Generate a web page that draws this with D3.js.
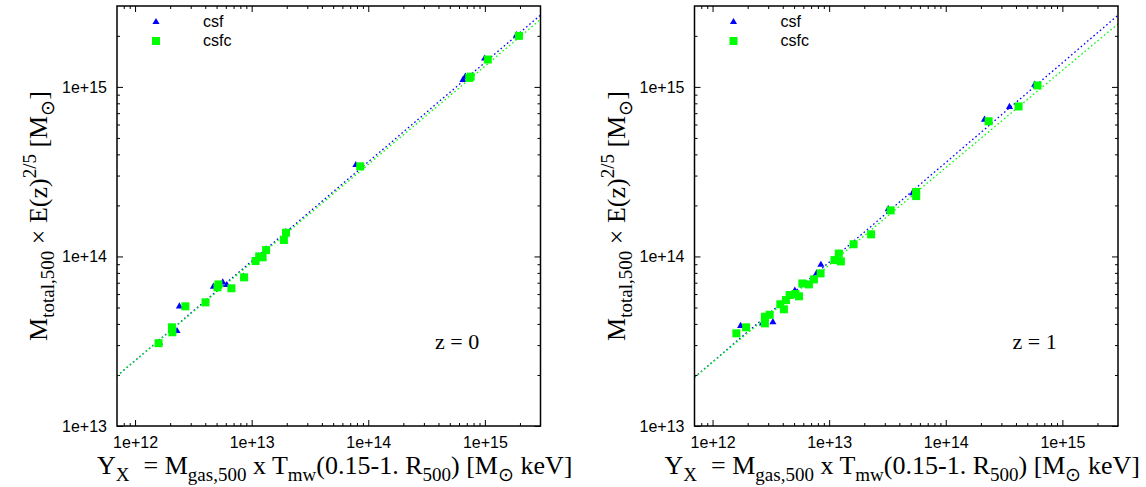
<!DOCTYPE html>
<html>
<head>
<meta charset="utf-8">
<script src="https://cdn.jsdelivr.net/npm/d3@7"></script>
<style>
  html, body { margin: 0; padding: 0; background: #fff; }
  svg { display: block; }
</style>
</head>
<body>
<svg id="chart" width="1146" height="487"></svg>
<script>
// ---- data: z = 0 ----
const z0CsfY  = [1.62e12, 2.29e12, 2.05e12, 2.40e12, 4.0e12, 4.70e12, 5.65e12, 6.12e12, 8.5e12, 1.07e13,
                 1.15e13, 1.25e13, 1.33e13, 1.88e13, 1.96e13, 7.83e13, 6.49e14, 6.80e14, 9.95e14, 1.87e15];
const z0CsfM  = [3.1e13, 3.63e13, 3.8e13, 5.08e13, 5.35e13, 6.63e13, 7.03e13, 6.78e13, 7.6e13, 9.4e13,
                 1.0e14, 9.9e13, 1.1e14, 1.26e14, 1.39e14, 3.46e14, 1.10e15, 1.15e15, 1.47e15, 2.02e15];
const z0CsfcY = [1.59e12, 2.07e12, 2.09e12, 2.70e12, 4.02e12, 5.19e12, 5.09e12, 6.70e12, 8.61e12, 1.08e13,
                 1.16e13, 1.24e13, 1.33e13, 1.89e13, 1.97e13, 8.53e13, 7.55e14, 7.35e14, 1.06e15, 1.96e15];
const z0CsfcM = [3.08e13, 3.82e13, 3.57e13, 5.08e13, 5.36e13, 6.84e13, 6.58e13, 6.49e13, 7.53e13, 9.40e13,
                 1.00e14, 9.88e13, 1.09e14, 1.25e14, 1.38e14, 3.40e14, 1.15e15, 1.13e15, 1.45e15, 2.0e15];

// ---- data: z = 1 ----
const z1CsfY  = [1.74e12, 1.6e12, 2.68e12, 2.8e12, 3.29e12, 3.8e12, 4.3e12, 4.6e12, 5.08e12, 5.5e12, 5.9e12,
                 6.7e12, 7.4e12, 7.80e12, 8.49e12, 1.1e13, 1.2e13, 1.26e13, 1.62e13, 2.29e13, 3.21e13, 5.20e13,
                 2.15e14, 3.52e14, 5.79e14];
const z1CsfM  = [3.89e13, 3.5e13, 4.03e13, 4.4e13, 4.10e13, 5.2e13, 5.5e13, 5.9e13, 6.28e13, 5.8e13, 6.9e13,
                 6.8e13, 7.3e13, 7.94e13, 8.93e13, 9.5e13, 1.04e14, 9.4e13, 1.18e14, 1.35e14, 1.90e14, 2.36e14,
                 6.41e14, 7.62e14, 1.03e15];
const z1CsfcY = [1.60e12, 1.94e12, 2.81e12, 2.81e12, 3.09e12, 3.81e12, 4.09e12, 4.26e12, 4.58e12, 5.13e12,
                 5.51e12, 5.89e12, 6.70e12, 7.40e12, 8.44e12, 1.11e13, 1.21e13, 1.26e13, 1.62e13, 2.29e13,
                 3.37e13, 5.57e13, 5.57e13, 2.33e14, 4.21e14, 6.12e14];
const z1CsfcM = [3.52e13, 3.82e13, 4.41e13, 4.03e13, 4.53e13, 5.22e13, 4.88e13, 5.53e13, 5.92e13, 6.00e13,
                 5.82e13, 6.93e13, 6.84e13, 7.32e13, 7.94e13, 9.52e13, 1.04e14, 9.35e13, 1.18e14, 1.35e14,
                 1.87e14, 2.40e14, 2.27e14, 6.27e14, 7.67e14, 1.02e15];

// power-law fits  M = norm * (Y / 1e13)^slope   [csf, csfc]
const fitNorm0  = [9.37e13, 9.20e13];
const fitSlope0 = [0.586, 0.579];
const fitNorm1  = [9.25e13, 8.91e13];
const fitSlope1 = [0.588, 0.574];

const seriesNames = ["csf", "csfc"];
const seriesColors = ["#0000ff", "#00ff00"];
const panelLabels = ["z = 0", "z = 1"];

const xTicks = [1e12, 1e13, 1e14, 1e15];
const yTicks = [1e13, 1e14, 1e15];
const xDomain = [7e11, 3e15];
const yDomain = [1e13, 3e15];

// ---- layout ----
const svg = d3.select("#chart");
const W = 423.5, H = 420;
const panelLeft = [117, 694.5];
const xTitleShift = [6, -4];
const plotTop = 6;
const serif = '"Liberation Serif", "Times New Roman", Times, serif';
const sans = '"Liberation Sans", Arial, sans-serif';
const titleSize = 26, subSize = 19;

const panels = [
  {csf: [z0CsfY, z0CsfM], csfc: [z0CsfcY, z0CsfcM], norm: fitNorm0, slope: fitSlope0, label: panelLabels[0]},
  {csf: [z1CsfY, z1CsfM], csfc: [z1CsfcY, z1CsfcM], norm: fitNorm1, slope: fitSlope1, label: panelLabels[1]}
];

function minorTicks(domain) {
  const out = [];
  const lo = Math.floor(Math.log10(domain[0])), hi = Math.ceil(Math.log10(domain[1]));
  for (let e = lo; e <= hi; e++) {
    for (let k = 2; k <= 9; k++) {
      const v = k * Math.pow(10, e);
      if (v > domain[0] && v < domain[1]) out.push(v);
    }
  }
  return out;
}

panels.forEach((p, i) => {
  const g = svg.append("g").attr("transform", `translate(${panelLeft[i]},${plotTop})`);
  const x = d3.scaleLog().domain(xDomain).range([0, W]);
  const y = d3.scaleLog().domain(yDomain).range([H, 0]);

  // axes: major and minor ticks on all four sides, pointing inward
  const axes = [
    {make: () => d3.axisBottom(x), t: `translate(0,${H})`, ticks: xTicks, minor: minorTicks(xDomain), lab: true, pad: 11},
    {make: () => d3.axisTop(x), t: "translate(0,0)", ticks: xTicks, minor: minorTicks(xDomain), lab: false, pad: 3},
    {make: () => d3.axisLeft(y), t: "translate(0,0)", ticks: yTicks, minor: minorTicks(yDomain), lab: true, pad: 10},
    {make: () => d3.axisRight(y), t: `translate(${W},0)`, ticks: yTicks, minor: minorTicks(yDomain), lab: false, pad: 3}
  ];
  axes.forEach(a => {
    const major = g.append("g").attr("transform", a.t)
      .call(a.make().tickValues(a.ticks).tickSize(-6).tickPadding(a.pad)
        .tickFormat(a.lab ? (d => "1e+" + Math.round(Math.log10(d))) : () => ""));
    major.select(".domain").remove();
    major.selectAll(".tick line").attr("stroke", "#000").attr("stroke-width", 1);
    major.selectAll(".tick text").attr("font-family", sans).attr("font-size", 16).attr("fill", "#000");
    const minor = g.append("g").attr("transform", a.t)
      .call(a.make().tickValues(a.minor).tickSize(-3).tickFormat(() => ""));
    minor.select(".domain").remove();
    minor.selectAll(".tick line").attr("stroke", "#000").attr("stroke-width", 1);
  });

  // clip region
  const clipId = "clip" + i;
  g.append("clipPath").attr("id", clipId).append("rect").attr("width", W).attr("height", H);

  // fit lines
  const line = d3.line().x(d => x(d[0])).y(d => y(d[1]));
  [0, 1].forEach(s => {
    const pts = d3.range(0, 101).map(k => {
      const yx = xDomain[0] * Math.pow(xDomain[1] / xDomain[0], k / 100);
      return [yx, p.norm[s] * Math.pow(yx / 1e13, p.slope[s])];
    });
    g.append("path").attr("d", line(pts)).attr("clip-path", `url(#${clipId})`)
      .attr("fill", "none").attr("stroke", seriesColors[s]).attr("stroke-width", 1.3)
      .attr("stroke-dasharray", "1.6,2.6");
  });

  // csf: triangles
  const tri = d3.symbol().type(d3.symbolTriangle).size(22);
  g.append("g").selectAll("path").data(d3.zip(p.csf[0], p.csf[1])).join("path")
    .attr("d", tri).attr("transform", d => `translate(${x(d[0])},${y(d[1])})`)
    .attr("fill", seriesColors[0]);

  // csfc: squares
  g.append("g").selectAll("rect").data(d3.zip(p.csfc[0], p.csfc[1])).join("rect")
    .attr("x", d => x(d[0]) - 4).attr("y", d => y(d[1]) - 4)
    .attr("width", 8).attr("height", 8).attr("fill", seriesColors[1]);

  // frame
  g.append("rect").attr("width", W).attr("height", H)
    .attr("fill", "none").attr("stroke", "#000").attr("stroke-width", 1.5);

  // legend
  const lg = g.append("g");
  lg.append("path").attr("d", tri).attr("transform", "translate(39,16)").attr("fill", seriesColors[0]);
  lg.append("rect").attr("x", 35).attr("y", 31).attr("width", 8).attr("height", 8).attr("fill", seriesColors[1]);
  lg.append("text").attr("x", 86).attr("y", 21).attr("font-family", sans).attr("font-size", 16).text(seriesNames[0]);
  lg.append("text").attr("x", 86).attr("y", 40).attr("font-family", sans).attr("font-size", 16).text(seriesNames[1]);

  // redshift label
  g.append("text").attr("x", 318).attr("y", 343).attr("font-family", serif).attr("font-size", 22).text(p.label);

  // y-axis title, centred on the plot height
  const yt = svg.append("text")
    .attr("transform", `translate(${panelLeft[i] - 70},${plotTop + H / 2}) rotate(-90)`)
    .attr("text-anchor", "middle").attr("font-family", serif).attr("font-size", titleSize);
  yt.append("tspan").text("M");
  yt.append("tspan").attr("dy", 7).attr("font-size", subSize).text("total,500");
  yt.append("tspan").attr("dy", -7).text(" \u00d7 E(z)");
  yt.append("tspan").attr("dy", -11).attr("font-size", subSize).text("2/5");
  yt.append("tspan").attr("dy", 11).text(" [M");
  yt.append("tspan").attr("dy", 7).attr("font-size", subSize).text("\u2299");
  yt.append("tspan").attr("dy", -7).text("]");

  // x-axis title
  const xt = svg.append("text")
    .attr("x", panelLeft[i] + W / 2 + xTitleShift[i]).attr("y", 474)
    .attr("text-anchor", "middle").attr("font-family", serif).attr("font-size", titleSize);
  xt.append("tspan").text("Y");
  xt.append("tspan").attr("dy", 7).attr("font-size", subSize).text("X");
  xt.append("tspan").attr("dy", -7).attr("dx", 14).text("= M");
  xt.append("tspan").attr("dy", 7).attr("font-size", subSize).text("gas,500");
  xt.append("tspan").attr("dy", -7).text(" x T");
  xt.append("tspan").attr("dy", 7).attr("font-size", subSize).text("mw");
  xt.append("tspan").attr("dy", -7).text("(0.15-1. R");
  xt.append("tspan").attr("dy", 7).attr("font-size", subSize).text("500");
  xt.append("tspan").attr("dy", -7).text(") [M");
  xt.append("tspan").attr("dy", 7).attr("font-size", subSize).text("\u2299");
  xt.append("tspan").attr("dy", -7).text(" keV]");
});
</script>
</body>
</html>
